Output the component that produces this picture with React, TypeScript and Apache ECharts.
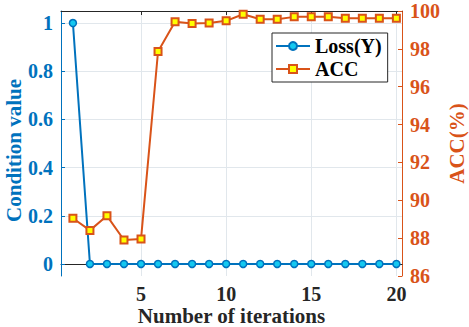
import React, { useEffect, useRef } from "react";
import * as echarts from "echarts";

const iterations = [1, 2, 3, 4, 5, 6, 7, 8, 9, 10, 11, 12, 13, 14, 15, 16, 17, 18, 19, 20];
const lossValues = [1, 0, 0, 0, 0, 0, 0, 0, 0, 0, 0, 0, 0, 0, 0, 0, 0, 0, 0, 0];
const accValues = [89.05, 88.41, 89.18, 87.9, 87.95, 97.86, 99.43, 99.34, 99.37, 99.48, 99.83, 99.56, 99.56, 99.69, 99.7, 99.69, 99.62, 99.62, 99.62, 99.62];
const xTicks = [5, 10, 15, 20];
const leftTicks = [0, 0.2, 0.4, 0.6, 0.8, 1];

const BLUE = "#0072BD";
const ORANGE = "#D95319";
const DARK = "#262626";
const FONT = "Liberation Serif";

export default function App() {
  const ref = useRef<HTMLDivElement>(null);
  useEffect(() => {
    const chart = echarts.init(ref.current!, null, { renderer: "svg" });
    const labelStyle = (color: string) => ({
      color,
      fontFamily: FONT,
      fontWeight: "bold" as const,
      fontSize: 20,
    });
    chart.setOption({
      animation: false,
      backgroundColor: "#fff",
      grid: { left: 61, right: 67, top: 11, bottom: 51, containLabel: false, outerBoundsMode: "none" },
      legend: {
        orient: "vertical",
        left: 272,
        top: 33,
        padding: [3, 6, 3, 3],
        itemGap: 3,
        itemWidth: 34,
        itemHeight: 10,
        borderColor: DARK,
        borderWidth: 1,
        backgroundColor: "#fff",
        textStyle: { color: "#000", fontFamily: FONT, fontWeight: "bold", fontSize: 20, lineHeight: 20 },
        data: ["Loss(Y)", "ACC"],
      },
      xAxis: [
        {
          type: "value",
          min: 0.3,
          max: 20.33,
          position: "bottom",
          name: "Number of iterations",
          nameLocation: "middle",
          nameGap: 29,
          nameMoveOverlap: false,
          nameTextStyle: { color: DARK, fontFamily: FONT, fontWeight: "bold", fontSize: 21 },
          axisLine: { show: true, lineStyle: { color: DARK, width: 1 } },
          axisTick: { show: true, inside: true, length: 4, customValues: xTicks, lineStyle: { color: DARK } },
          axisLabel: { ...labelStyle(DARK), margin: 8, customValues: xTicks },
          splitLine: { show: true, lineStyle: { color: "#e1e7ec", width: 1 } },
        },
        {
          type: "value",
          min: 0.3,
          max: 20.33,
          position: "top",
          axisLine: { show: true, lineStyle: { color: DARK, width: 1 } },
          axisTick: { show: true, inside: true, length: 4, customValues: xTicks, lineStyle: { color: DARK } },
          axisLabel: { show: false },
          splitLine: { show: false },
        },
      ],
      yAxis: [
        {
          type: "value",
          min: -0.05,
          max: 1.05,
          position: "left",
          name: "Condition value",
          nameLocation: "middle",
          nameRotate: 90,
          nameGap: 37,
          nameMoveOverlap: false,
          nameTextStyle: { color: BLUE, fontFamily: FONT, fontWeight: "bold", fontSize: 21, padding: [0, 14, 0, 0] },
          axisLine: { show: true, lineStyle: { color: BLUE, width: 1 } },
          axisTick: { show: true, inside: true, length: 4, customValues: leftTicks, lineStyle: { color: BLUE } },
          axisLabel: { ...labelStyle(BLUE), margin: 8, customValues: leftTicks },
          splitLine: { show: true, lineStyle: { color: "#e1e7ec", width: 1 } },
        },
        {
          type: "value",
          min: 86,
          max: 100,
          interval: 2,
          position: "right",
          name: "ACC(%)",
          nameLocation: "middle",
          nameRotate: 90,
          nameGap: 44,
          nameMoveOverlap: false,
          nameTextStyle: { color: ORANGE, fontFamily: FONT, fontWeight: "bold", fontSize: 21 },
          axisLine: { show: true, lineStyle: { color: ORANGE, width: 1 } },
          axisTick: { show: true, inside: true, length: 4, lineStyle: { color: ORANGE } },
          axisLabel: { ...labelStyle(ORANGE), margin: 8 },
          splitLine: { show: false },
        },
      ],
      series: [
        {
          name: "Loss(Y)",
          type: "line",
          xAxisIndex: 0,
          yAxisIndex: 0,
          data: iterations.map((x, i) => [x, lossValues[i]]),
          symbol: "circle",
          symbolSize: 7,
          showAllSymbol: true,
          lineStyle: { color: BLUE, width: 2 },
          itemStyle: { color: "#14C8F0", borderColor: BLUE, borderWidth: 1.5 },
        },
        {
          name: "ACC",
          type: "line",
          xAxisIndex: 0,
          yAxisIndex: 1,
          data: iterations.map((x, i) => [x, accValues[i]]),
          symbol: "rect",
          symbolSize: 7,
          showAllSymbol: true,
          lineStyle: { color: ORANGE, width: 2 },
          itemStyle: { color: "#FFFF00", borderColor: ORANGE, borderWidth: 2 },
        },
      ],
    });
    return () => chart.dispose();
  }, []);
  return <div ref={ref} style={{ width: 469, height: 327, position: "absolute", left: 0, top: 0 }} />;
}
